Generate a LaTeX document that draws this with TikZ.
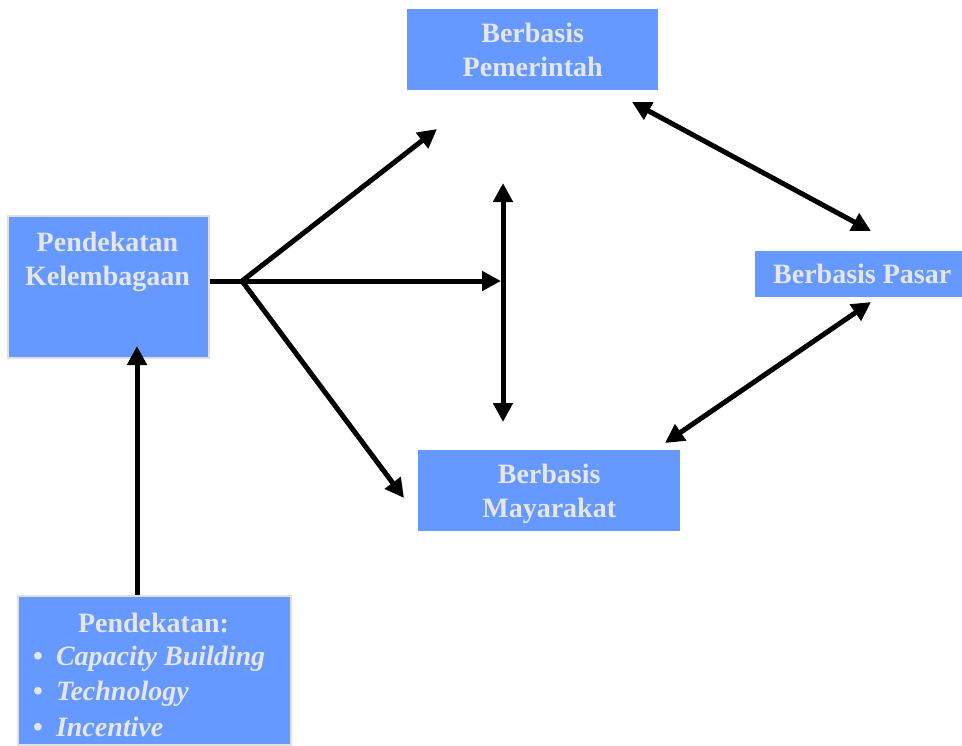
\documentclass[tikz,border=0pt]{standalone}
\usepackage{fontspec}
\setmainfont{Liberation Serif}
\usepackage{xcolor}
\usetikzlibrary{arrows.meta}
\usetikzlibrary{positioning}

\definecolor{boxblue}{RGB}{102,153,255}
\definecolor{txtgrey}{RGB}{230,230,230}
\definecolor{edgegrey}{RGB}{224,224,224}

\tikzset{
    blk/.style={fill=boxblue, draw=none, inner sep=0pt, anchor=north west},
    lbl/.style={text=txtgrey, inner sep=0pt, align=center, font=\bfseries\fontsize{28}{34}\selectfont},
    arr/.style={line width=5pt, -{Triangle[length=19pt,width=19pt]}},
    darr/.style={line width=5pt, {Triangle[length=19pt,width=19pt]}-{Triangle[length=19pt,width=19pt]}}
}

\begin{document}
\begin{tikzpicture}[x=1pt,y=-1pt]

    \useasboundingbox (0,0) rectangle (962,745);

    %===========================
    % Boxes
    %===========================

    \node (pem) at (407,9) [blk, minimum width=251pt, minimum height=81pt]{};
    \node (pemtxt) at (pem.center) [lbl]{Berbasis\\Pemerintah};

    \node (pas) at (755,251) [blk, minimum width=214pt, minimum height=46pt]{};
    \node (pastxt) at (pas.center) [lbl]{Berbasis Pasar};

    \node (may) at (418,450) [blk, minimum width=262pt, minimum height=81pt]{};
    \node (maytxt) at ([yshift=-3pt]may.center) [lbl]{Berbasis\\Mayarakat};

    \node (kel) at (7,215) [blk, draw=edgegrey, line width=1.5pt, minimum width=201pt, minimum height=142pt]{};
    \node (keltxt) at (107.5,232) [lbl, anchor=north]{Pendekatan\\Kelembagaan};

    \node (apr) at (17,595) [blk, draw=edgegrey, line width=1.5pt, minimum width=273pt, minimum height=149pt]{};
    \node (aprtxt) at (153.5,632) [lbl, anchor=base]{Pendekatan:};
    \node (cap) at (33,665) [lbl, anchor=base west]{\textbullet\hspace{13pt}\textit{Capacity Building}};
    \node (tec) at (33,700) [lbl, anchor=base west]{\textbullet\hspace{13pt}\textit{Technology}};
    \node (inc) at (33,736) [lbl, anchor=base west]{\textbullet\hspace{13pt}\textit{Incentive}};


    %===========================
    % Arrows
    %===========================

    % Branch from Kelembagaan
    \coordinate (j) at (242,281);
    \coordinate (tipPem) at (437,129);
    \coordinate (tipMid) at (501,281);
    \coordinate (tipMay) at (404,498);
    \draw[line width=5pt] (kel.east |- j) -- (j);
    \draw[arr] (j) -- (tipPem);
    \draw[arr] (j) -- (tipMid);
    \draw[arr] (j) -- (tipMay);

    % Vertical link
    \coordinate (vTop) at (503,183);
    \coordinate (vBot) at (503,422);
    \draw[darr] (vTop) -- (vBot);

    % Right Side
    \coordinate (pemEnd) at (632,102);
    \coordinate (pasTop) at (871,231);
    \draw[darr] (pemEnd) -- (pasTop);

    \coordinate (pasBot) at (871,302);
    \coordinate (mayEnd) at (665,443);
    \draw[darr] (pasBot) -- (mayEnd);

    % From Pendekatan
    \coordinate (upTip) at (137,346);
    \draw[arr] (upTip |- apr.north) -- (upTip);
\end{tikzpicture}
\end{document}
